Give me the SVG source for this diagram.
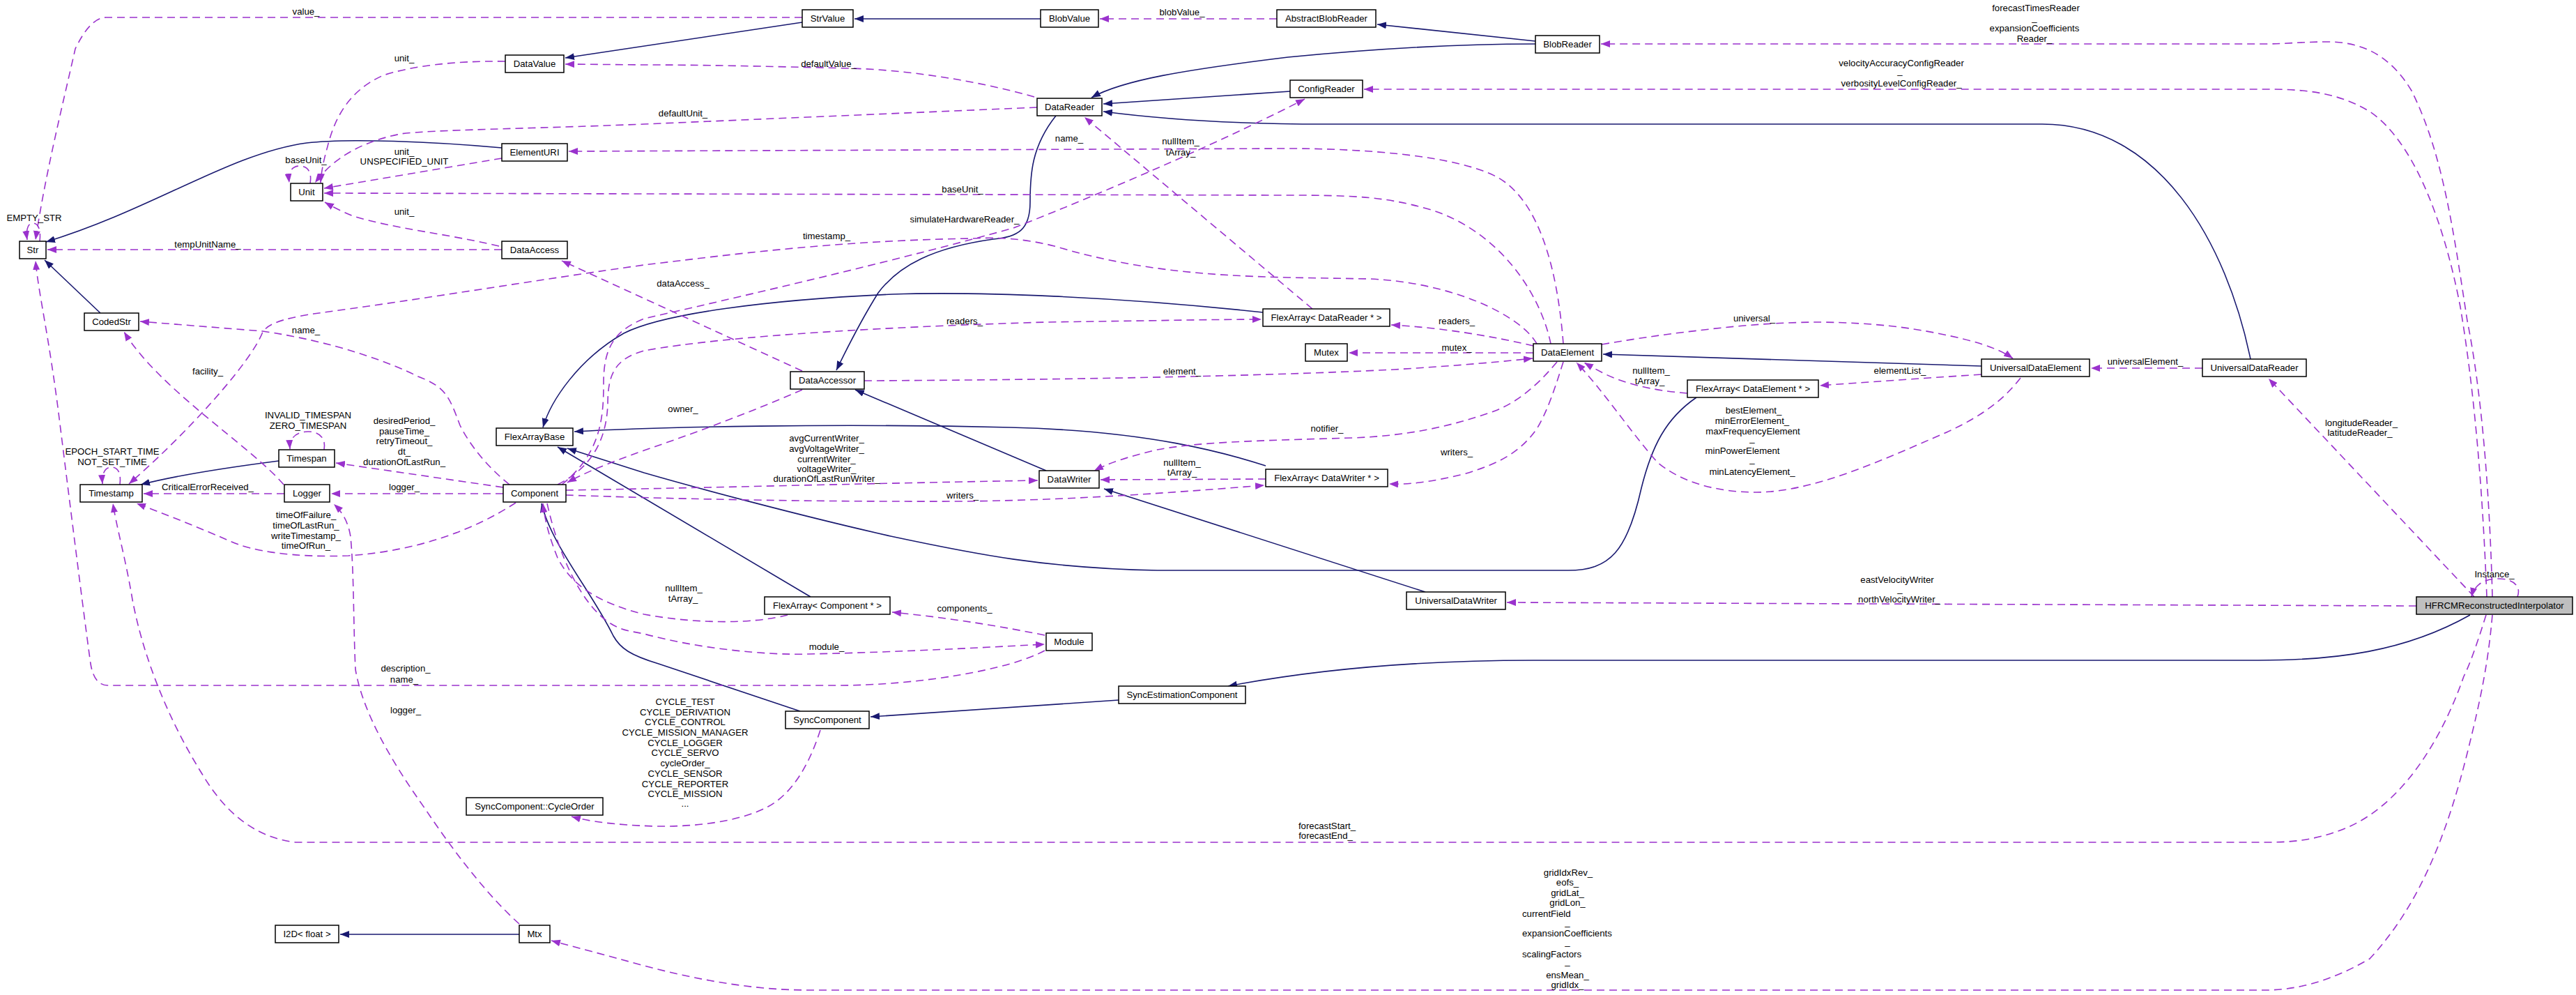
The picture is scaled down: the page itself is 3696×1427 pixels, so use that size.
<svg xmlns="http://www.w3.org/2000/svg" width="3696" height="1427" viewBox="0 0 3696 1427">
<style>
text{font-family:"Liberation Sans",Arial,sans-serif;font-size:13.2px;fill:#000}
.lbl{text-anchor:middle}
.st{text-anchor:start}
.box{fill:#fff;stroke:#000;stroke-width:1.5}
.inh{fill:none;stroke:#191970;stroke-width:1.6;marker-end:url(#an)}
.use{fill:none;stroke:#9a32cd;stroke-width:1.6;stroke-dasharray:11,7;marker-end:url(#ap)}
</style>
<defs>
<marker id="an" markerUnits="userSpaceOnUse" markerWidth="14" markerHeight="10" refX="13" refY="5" orient="auto"><path d="M0,0 L13,5 L0,10 z" fill="#191970"/></marker>
<marker id="ap" markerUnits="userSpaceOnUse" markerWidth="14" markerHeight="10" refX="13" refY="5" orient="auto"><path d="M0,0 L13,5 L0,10 z" fill="#9a32cd"/></marker>
</defs>
<rect width="3696" height="1427" fill="#fff"/>
<g id="connectors">
<!-- inheritance -->
<path class="inh" d="M1493,27 L1226,27"/>
<path class="inh" d="M1151,32 L811,83"/>
<path class="inh" d="M2203,59 L1976,35"/>
<path class="inh" d="M2203,63 C2080,63 1950,72 1848,82 C1700,100 1610,115 1566,140"/>
<path class="inh" d="M1851,131 L1583,149"/>
<path class="inh" d="M3229,515 C3195,350 3100,178 2930,178 L1900,178 C1760,178 1660,170 1583,160"/>
<path class="inh" d="M1515,166 C1480,210 1478,250 1478,290 C1478,330 1460,340 1425,343 C1340,355 1290,380 1260,420 C1235,460 1215,500 1200,531"/>
<path class="inh" d="M720,212 C620,203 500,198 440,205 C330,220 220,300 66,347"/>
<path class="inh" d="M144,449 L64,373"/>
<path class="inh" d="M400,661 C330,670 260,680 202,695"/>
<path class="inh" d="M1812,448 C1600,425 1400,418 1280,422 C1100,430 950,450 895,478 C830,515 790,575 779,613"/>
<path class="inh" d="M1816,668 C1760,650 1650,618 1450,613 C1200,607 950,612 824,619"/>
<path class="inh" d="M1163,856 L800,641"/>
<path class="inh" d="M2434,570 C2390,600 2370,640 2355,700 C2335,790 2310,818 2250,818 L1661,818 C1500,815 1400,795 1278,769 C1150,740 1000,700 924,678 L814,643"/>
<path class="inh" d="M1501,675 L1227,559"/>
<path class="inh" d="M2045,849 L1584,701"/>
<path class="inh" d="M2843,525 L2300,508"/>
<path class="inh" d="M1148,1020 L945,952 C905,940 890,930 880,912 C850,850 790,780 777,722"/>
<path class="inh" d="M1605,1004 L1249,1028"/>
<path class="inh" d="M3544,882 C3450,935 3350,947 3240,947 L2200,947 C2050,947 1900,958 1762,984"/>
<path class="inh" d="M745,1340 L488,1340"/>
<!-- usage -->
<path class="use" d="M1151,25 L152,25 C135,25 120,45 108,70 C90,150 65,250 51,344"/>
<path class="use" d="M57,346 C59,330 55,320 47,320 C40,320 37,330 39,344"/>
<path class="use" d="M725,88 C650,87 590,95 550,108 C500,130 480,170 470,210 C463,235 461,248 460,262"/>
<path class="use" d="M1488,154 L924,178 C750,185 620,186 575,192 C520,203 480,225 452,262"/>
<path class="use" d="M445,263 C448,245 440,238 430,238 C420,238 413,245 415,262"/>
<path class="use" d="M720,227 L465,270"/>
<path class="use" d="M716,353 C640,335 566,328 507,310 C490,303 478,297 466,290"/>
<path class="use" d="M720,358 L68,358"/>
<path class="use" d="M2225,493 C2210,420 2150,330 2050,300 C1990,283 1950,280 1850,280 L465,277"/>
<path class="use" d="M2243,493 C2235,390 2210,290 2150,255 C2090,222 1950,213 1848,213 L816,217"/>
<path class="use" d="M1484,139 C1400,115 1300,100 1219,98 C1100,95 1000,93 924,93 L811,92"/>
<path class="use" d="M1832,27 L1578,27"/>
<path class="use" d="M3576,856 C3572,700 3560,560 3540,460 C3520,330 3505,220 3460,130 C3430,80 3390,60 3340,60 C3300,60 3280,63 3250,63 L2297,63"/>
<path class="use" d="M3568,856 C3562,700 3550,560 3530,440 C3505,310 3460,200 3400,160 C3350,130 3300,128 3250,128 L1957,128"/>
<path class="use" d="M3467,869 L2162,864"/>
<path class="use" d="M3550,856 L3255,543"/>
<path class="use" d="M3612,856 C3618,840 3605,830 3585,830 C3562,830 3550,840 3546,856"/>
<path class="use" d="M3567,882 C3555,920 3545,950 3535,970 C3500,1070 3440,1160 3360,1190 C3320,1205 3290,1208 3250,1208 L424,1208 C360,1200 320,1160 290,1110 C240,1030 205,940 190,860 C180,800 168,760 162,722"/>
<path class="use" d="M3576,882 C3570,950 3560,1000 3540,1080 C3510,1200 3470,1300 3400,1375 C3340,1410 3290,1420 3250,1420 L1160,1420 C1080,1420 1000,1405 924,1385 C870,1370 820,1357 791,1349"/>
<path class="use" d="M1499,933 C1450,960 1320,983 1200,983 L155,983 C140,983 133,970 130,952 C120,880 100,720 85,600 C70,480 55,420 51,374"/>
<path class="use" d="M745,1325 C700,1285 650,1220 610,1160 C560,1090 520,1020 510,960 C507,900 508,820 503,770 C500,750 492,735 479,723"/>
<path class="use" d="M1177,1047 C1160,1100 1135,1140 1100,1158 C1060,1178 1000,1186 940,1185 C880,1183 845,1178 820,1171"/>
<path class="use" d="M2421,564 C2370,560 2330,550 2300,535 C2285,527 2278,523 2273,520"/>
<path class="use" d="M2899,542 C2870,580 2830,605 2772,629 C2700,660 2600,706 2520,706 C2460,706 2410,690 2378,663 C2340,620 2300,560 2262,520"/>
<path class="use" d="M2843,537 C2750,543 2680,548 2611,553"/>
<path class="use" d="M2298,494 C2350,485 2400,478 2437,474 C2500,466 2560,462 2614,462 C2690,463 2740,470 2780,478 C2830,488 2865,498 2888,514"/>
<path class="use" d="M3160,528 L3000,528"/>
<path class="use" d="M2200,506 L1935,506"/>
<path class="use" d="M1240,546 C1500,545 1800,540 2000,530 C2100,524 2160,518 2199,514"/>
<path class="use" d="M2234,519 C2200,560 2170,580 2143,590 C2080,612 2020,625 1940,628 C1800,632 1720,634 1660,645 C1620,655 1595,662 1570,675"/>
<path class="use" d="M2243,519 C2230,560 2220,590 2205,615 C2180,650 2150,665 2100,680 C2050,692 2020,695 1993,694"/>
<path class="use" d="M1816,687 L1579,688"/>
<path class="use" d="M812,703 C1000,700 1300,692 1489,689"/>
<path class="use" d="M812,710 C900,713 1100,720 1384,719 C1550,717 1700,705 1814,696"/>
<path class="use" d="M1883,443 L1556,168"/>
<path class="use" d="M2200,496 C2140,482 2070,470 1996,466"/>
<path class="use" d="M800,695 C850,670 870,630 872,580 C872,540 880,515 924,503 C1050,480 1300,468 1500,462 C1650,460 1750,458 1810,458"/>
<path class="use" d="M806,695 C862,650 866,600 866,550 C866,500 880,475 924,457 C1100,417 1300,370 1454,327 C1600,270 1780,190 1872,142"/>
<path class="use" d="M1151,559 C1080,590 1000,620 924,646 C870,665 835,680 814,692"/>
<path class="use" d="M1151,532 L806,374"/>
<path class="use" d="M731,695 C700,670 675,640 660,610 C645,570 640,555 600,540 C560,520 480,490 377,475 L201,461"/>
<path class="use" d="M2205,493 C2180,450 2080,405 1966,400 L1848,398 C1720,395 1620,385 1513,353 C1470,342 1430,340 1395,342 C1200,345 1050,365 924,380 C780,400 600,430 450,450 C400,458 385,465 377,476 C360,520 270,620 185,694"/>
<path class="use" d="M407,695 C360,640 230,560 178,476"/>
<path class="use" d="M722,699 L482,664"/>
<path class="use" d="M722,708 L475,708"/>
<path class="use" d="M408,708 L206,708"/>
<path class="use" d="M740,721 C680,760 600,790 500,797 C420,800 360,790 330,776 C270,750 230,735 196,722"/>
<path class="use" d="M172,695 C174,680 170,670 160,670 C150,670 146,680 147,694"/>
<path class="use" d="M465,645 C468,628 458,619 442,619 C425,619 415,628 416,644"/>
<path class="use" d="M1130,882 C1080,895 1000,895 924,881 C860,865 820,840 800,800 C790,775 782,750 779,722"/>
<path class="use" d="M1499,911 C1420,895 1350,885 1280,878"/>
<path class="use" d="M785,722 C800,790 830,860 870,890 C890,905 905,905 924,909 C1000,930 1100,940 1160,938 C1300,935 1420,928 1499,924"/>
<!-- labels -->
<text class="lbl" x="439" y="21">value_</text>
<text class="lbl" x="49" y="317">EMPTY_STR</text>
<text class="lbl" x="580" y="88">unit_</text>
<text class="lbl" x="980" y="167">defaultUnit_</text>
<text class="lbl" x="1189" y="96">defaultValue_</text>
<text class="lbl" x="1696" y="22">blobValue_</text>
<text class="lbl" x="439" y="234">baseUnit_</text>
<text class="lbl" x="580" y="222">unit_</text>
<text class="lbl" x="580" y="236">UNSPECIFIED_UNIT</text>
<text class="lbl" x="580" y="308">unit_</text>
<text class="lbl" x="298" y="355">tempUnitName_</text>
<text class="lbl" x="1381" y="276">baseUnit_</text>
<text class="lbl" x="1534" y="203">name_</text>
<text class="lbl" x="1694" y="207">nullItem_</text>
<text class="lbl" x="1694" y="223">tArray_</text>
<text class="lbl" x="1384" y="319">simulateHardwareReader_</text>
<text class="lbl" x="1186" y="343">timestamp_</text>
<text class="lbl" x="980" y="411">dataAccess_</text>
<text class="lbl" x="1384" y="465">readers_</text>
<text class="lbl" x="2090" y="465">readers_</text>
<text class="lbl" x="439" y="478">name_</text>
<text class="lbl" x="2517" y="461">universal_</text>
<text class="lbl" x="2921" y="16">forecastTimesReader</text>
<text class="lbl" x="2919" y="30">_</text>
<text class="lbl" x="2919" y="45">expansionCoefficients</text>
<text class="lbl" x="2919" y="60">Reader_</text>
<text class="lbl" x="2728" y="95">velocityAccuracyConfigReader</text>
<text class="lbl" x="2726" y="106">_</text>
<text class="lbl" x="2728" y="124">verbosityLevelConfigReader_</text>
<text class="lbl" x="1696" y="537">element_</text>
<text class="lbl" x="980" y="591">owner_</text>
<text class="lbl" x="2090" y="503">mutex_</text>
<text class="lbl" x="2369" y="536">nullItem_</text>
<text class="lbl" x="2367" y="551">tArray_</text>
<text class="lbl" x="2726" y="536">elementList_</text>
<text class="lbl" x="3078" y="523">universalElement_</text>
<text class="lbl" x="1904" y="619">notifier_</text>
<text class="lbl" x="2090" y="653">writers_</text>
<text class="lbl" x="2516" y="593">bestElement_</text>
<text class="lbl" x="2514" y="608">minErrorElement_</text>
<text class="lbl" x="2515" y="623">maxFrequencyElement</text>
<text class="lbl" x="2514" y="633">_</text>
<text class="lbl" x="2500" y="651">minPowerElement</text>
<text class="lbl" x="2514" y="663">_</text>
<text class="lbl" x="2514" y="681">minLatencyElement_</text>
<text class="lbl" x="3388" y="611">longitudeReader_</text>
<text class="lbl" x="3386" y="625">latitudeReader_</text>
<text class="lbl" x="442" y="600">INVALID_TIMESPAN</text>
<text class="lbl" x="442" y="615">ZERO_TIMESPAN</text>
<text class="lbl" x="580" y="608">desiredPeriod_</text>
<text class="lbl" x="580" y="623">pauseTime_</text>
<text class="lbl" x="580" y="637">retryTimeout_</text>
<text class="lbl" x="580" y="652">dt_</text>
<text class="lbl" x="580" y="667">durationOfLastRun_</text>
<text class="lbl" x="161" y="652">EPOCH_START_TIME</text>
<text class="lbl" x="161" y="667">NOT_SET_TIME</text>
<text class="lbl" x="298" y="537">facility_</text>
<text class="lbl" x="298" y="703">CriticalErrorReceived_</text>
<text class="lbl" x="580" y="703">logger_</text>
<text class="lbl" x="1186" y="633">avgCurrentWriter_</text>
<text class="lbl" x="1186" y="648">avgVoltageWriter_</text>
<text class="lbl" x="1186" y="663">currentWriter_</text>
<text class="lbl" x="1186" y="677">voltageWriter_</text>
<text class="lbl" x="1186" y="691">durationOfLastRunWriter_</text>
<text class="lbl" x="1696" y="668">nullItem_</text>
<text class="lbl" x="1696" y="682">tArray_</text>
<text class="lbl" x="1381" y="715">writers_</text>
<text class="lbl" x="439" y="743">timeOfFailure_</text>
<text class="lbl" x="439" y="758">timeOfLastRun_</text>
<text class="lbl" x="439" y="773">writeTimestamp_</text>
<text class="lbl" x="439" y="787">timeOfRun_</text>
<text class="lbl" x="3579" y="828">Instance_</text>
<text class="lbl" x="2722" y="836">eastVelocityWriter</text>
<text class="lbl" x="2726" y="849">_</text>
<text class="lbl" x="2725" y="864">northVelocityWriter_</text>
<text class="lbl" x="981" y="848">nullItem_</text>
<text class="lbl" x="980" y="863">tArray_</text>
<text class="lbl" x="1384" y="877">components_</text>
<text class="lbl" x="1186" y="932">module_</text>
<text class="lbl" x="582" y="963">description_</text>
<text class="lbl" x="580" y="979">name_</text>
<text class="lbl" x="983" y="1011">CYCLE_TEST</text>
<text class="lbl" x="983" y="1026">CYCLE_DERIVATION</text>
<text class="lbl" x="983" y="1040">CYCLE_CONTROL</text>
<text class="lbl" x="983" y="1055">CYCLE_MISSION_MANAGER</text>
<text class="lbl" x="983" y="1070">CYCLE_LOGGER</text>
<text class="lbl" x="983" y="1084">CYCLE_SERVO</text>
<text class="lbl" x="983" y="1099">cycleOrder_</text>
<text class="lbl" x="983" y="1114">CYCLE_SENSOR</text>
<text class="lbl" x="983" y="1129">CYCLE_REPORTER</text>
<text class="lbl" x="983" y="1143">CYCLE_MISSION</text>
<text class="lbl" x="983" y="1157">...</text>
<text class="lbl" x="582" y="1023">logger_</text>
<text class="lbl" x="1904" y="1189">forecastStart_</text>
<text class="lbl" x="1902" y="1203">forecastEnd_</text>
<text class="lbl" x="2250" y="1256">gridIdxRev_</text>
<text class="lbl" x="2249" y="1270">eofs_</text>
<text class="lbl" x="2249" y="1285">gridLat_</text>
<text class="lbl" x="2249" y="1299">gridLon_</text>
<text class="st" x="2184" y="1315">currentField</text>
<text class="lbl" x="2249" y="1327">_</text>
<text class="st" x="2184" y="1343">expansionCoefficients</text>
<text class="lbl" x="2249" y="1355">_</text>
<text class="st" x="2184" y="1373">scalingFactors</text>
<text class="lbl" x="2249" y="1383">_</text>
<text class="lbl" x="2249" y="1403">ensMean_</text>
<text class="lbl" x="2249" y="1417">gridIdx_</text>
</g>
<g id="n-Str"><rect class="box" x="28" y="346" width="38" height="25"/><text class="lbl" x="47" y="363">Str</text></g>
<g id="n-StrValue"><rect class="box" x="1151" y="14" width="73" height="25"/><text class="lbl" x="1187.5" y="31">StrValue</text></g>
<g id="n-BlobValue"><rect class="box" x="1493" y="14" width="83" height="25"/><text class="lbl" x="1534.5" y="31">BlobValue</text></g>
<g id="n-AbstractBlobReader"><rect class="box" x="1832" y="14" width="142" height="25"/><text class="lbl" x="1903" y="31">AbstractBlobReader</text></g>
<g id="n-BlobReader"><rect class="box" x="2203" y="51" width="92" height="25"/><text class="lbl" x="2249" y="68">BlobReader</text></g>
<g id="n-DataValue"><rect class="box" x="725" y="79" width="84" height="25"/><text class="lbl" x="767" y="96">DataValue</text></g>
<g id="n-DataReader"><rect class="box" x="1488" y="141" width="93" height="25"/><text class="lbl" x="1534.5" y="158">DataReader</text></g>
<g id="n-ConfigReader"><rect class="box" x="1851" y="115" width="104" height="25"/><text class="lbl" x="1903" y="132">ConfigReader</text></g>
<g id="n-ElementURI"><rect class="box" x="720" y="206" width="94" height="25"/><text class="lbl" x="767" y="223">ElementURI</text></g>
<g id="n-Unit"><rect class="box" x="417" y="263" width="46" height="25"/><text class="lbl" x="440" y="280">Unit</text></g>
<g id="n-DataAccess"><rect class="box" x="720" y="346" width="94" height="25"/><text class="lbl" x="767" y="363">DataAccess</text></g>
<g id="n-CodedStr"><rect class="box" x="121" y="449" width="78" height="25"/><text class="lbl" x="160" y="466">CodedStr</text></g>
<g id="n-FlexArrayDataReader"><rect class="box" x="1812" y="443" width="182" height="25"/><text class="lbl" x="1903" y="460">FlexArray&lt; DataReader * &gt;</text></g>
<g id="n-DataAccessor"><rect class="box" x="1134" y="533" width="106" height="25"/><text class="lbl" x="1187" y="550">DataAccessor</text></g>
<g id="n-Mutex"><rect class="box" x="1873" y="493" width="60" height="25"/><text class="lbl" x="1903" y="510">Mutex</text></g>
<g id="n-DataElement"><rect class="box" x="2200" y="493" width="98" height="25"/><text class="lbl" x="2249" y="510">DataElement</text></g>
<g id="n-UniversalDataElement"><rect class="box" x="2843" y="515" width="155" height="25"/><text class="lbl" x="2920.5" y="532">UniversalDataElement</text></g>
<g id="n-UniversalDataReader"><rect class="box" x="3160" y="515" width="149" height="25"/><text class="lbl" x="3234.5" y="532">UniversalDataReader</text></g>
<g id="n-FlexArrayDataElement"><rect class="box" x="2421" y="545" width="188" height="25"/><text class="lbl" x="2515" y="562">FlexArray&lt; DataElement * &gt;</text></g>
<g id="n-FlexArrayBase"><rect class="box" x="712" y="614" width="110" height="25"/><text class="lbl" x="767" y="631">FlexArrayBase</text></g>
<g id="n-Timespan"><rect class="box" x="400" y="645" width="80" height="25"/><text class="lbl" x="440" y="662">Timespan</text></g>
<g id="n-FlexArrayDataWriter"><rect class="box" x="1816" y="673" width="175" height="25"/><text class="lbl" x="1903.5" y="690">FlexArray&lt; DataWriter * &gt;</text></g>
<g id="n-DataWriter"><rect class="box" x="1491" y="675" width="86" height="25"/><text class="lbl" x="1534" y="692">DataWriter</text></g>
<g id="n-Timestamp"><rect class="box" x="115" y="695" width="89" height="25"/><text class="lbl" x="159.5" y="712">Timestamp</text></g>
<g id="n-Logger"><rect class="box" x="408" y="695" width="65" height="25"/><text class="lbl" x="440.5" y="712">Logger</text></g>
<g id="n-Component"><rect class="box" x="722" y="695" width="90" height="25"/><text class="lbl" x="767" y="712">Component</text></g>
<g id="n-UniversalDataWriter"><rect class="box" x="2018" y="849" width="142" height="25"/><text class="lbl" x="2089" y="866">UniversalDataWriter</text></g>
<g id="n-FlexArrayComponent"><rect class="box" x="1097" y="856" width="180" height="25"/><text class="lbl" x="1187" y="873">FlexArray&lt; Component * &gt;</text></g>
<g id="n-HFRCMReconstructedInterpolator"><rect class="box" x="3467" y="856" width="224" height="25" style="fill:#bfbfbf"/><text class="lbl" x="3579" y="873">HFRCMReconstructedInterpolator</text></g>
<g id="n-Module"><rect class="box" x="1501" y="908" width="66" height="25"/><text class="lbl" x="1534" y="925">Module</text></g>
<g id="n-SyncEstimationComponent"><rect class="box" x="1605" y="984" width="182" height="25"/><text class="lbl" x="1696" y="1001">SyncEstimationComponent</text></g>
<g id="n-SyncComponent"><rect class="box" x="1127" y="1020" width="120" height="25"/><text class="lbl" x="1187" y="1037">SyncComponent</text></g>
<g id="n-CycleOrder"><rect class="box" x="669" y="1144" width="196" height="25"/><text class="lbl" x="767" y="1161">SyncComponent::CycleOrder</text></g>
<g id="n-I2D"><rect class="box" x="395" y="1327" width="91" height="25"/><text class="lbl" x="440.5" y="1344">I2D&lt; float &gt;</text></g>
<g id="n-Mtx"><rect class="box" x="745" y="1327" width="44" height="25"/><text class="lbl" x="767" y="1344">Mtx</text></g>
</svg>
